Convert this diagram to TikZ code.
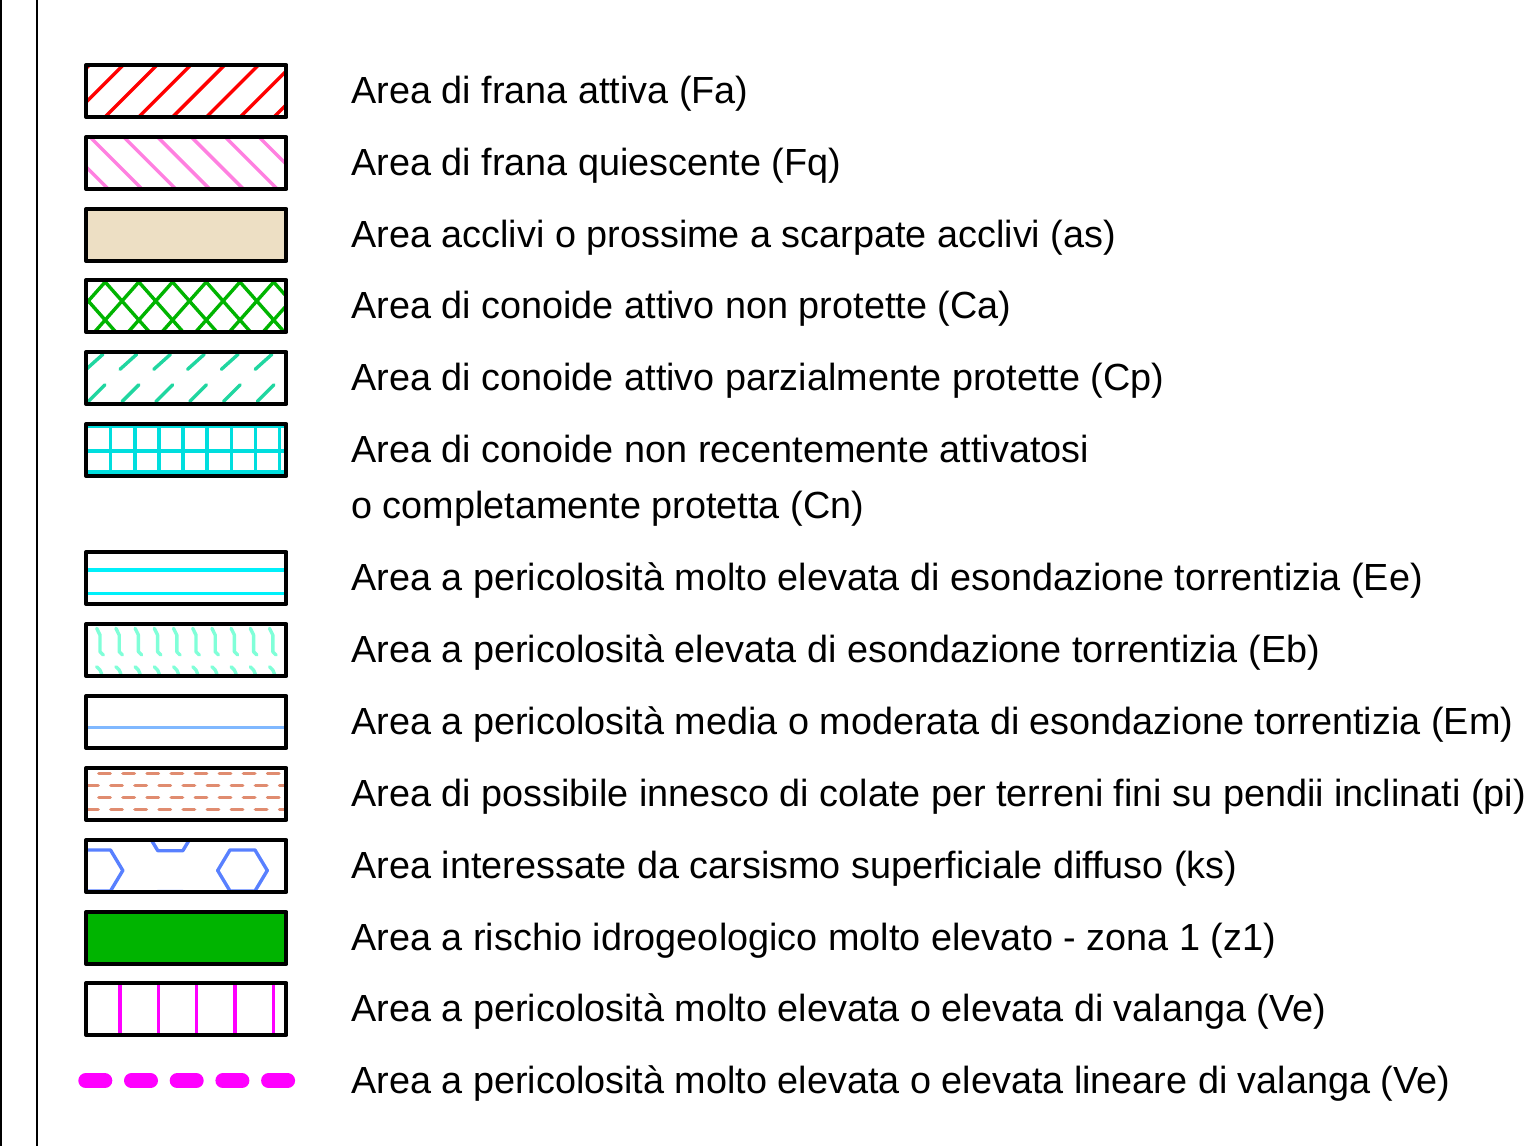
\documentclass[tikz,border=0pt]{standalone}
\usepackage{fontspec}
\setmainfont{Liberation Sans}
\usetikzlibrary{positioning,calc}
\definecolor{fraRed}{RGB}{255,0,0}
\definecolor{fraPink}{RGB}{255,128,224}
\definecolor{accBeige}{RGB}{237,223,196}
\definecolor{conGreen}{RGB}{0,180,0}
\definecolor{conTeal}{RGB}{32,214,160}
\definecolor{conCyan}{RGB}{0,222,222}
\definecolor{esoCyan}{RGB}{0,240,250}
\definecolor{esoAqua}{RGB}{128,255,216}
\definecolor{esoBlue}{RGB}{128,184,255}
\definecolor{colSalmon}{RGB}{224,140,112}
\definecolor{karBlue}{RGB}{88,128,255}
\definecolor{valMag}{RGB}{255,0,255}
\tikzset{box/.style={rectangle,inner sep=0pt,outer sep=0pt,minimum width=100pt,minimum height=26pt},
         frame/.style={draw=black,line width=2.1pt,line join=round},
         hatch/.style={line width=1.7pt},
         legend/.style={anchor=base west,inner sep=0pt,font=\fontsize{18.9}{22}\selectfont},
         valline/.style={valMag,line width=7.5pt,line cap=round,dash pattern=on 9.5pt off 13.35pt}
}
\newcommand\kshex[2]{\draw[hatch,karBlue,line join=round] (#1-12.5,#2-20.5) -- (#1+12.5,#2-20.5) -- (#1+24.8,#2) -- (#1+12.5,#2+20.5) -- (#1-12.5,#2+20.5) -- (#1-24.8,#2) -- cycle;}

\begin{document}
\begin{tikzpicture}[x=0.5pt,y=-0.5pt]
\useasboundingbox (0,0) rectangle (1529,1146);
% left rules
\draw[line width=0.8pt] (1,0) -- (1,1146);
\draw[line width=1.2pt] (37.2,0) -- (37.2,1146);

% swatches and texts
\foreach \nm/\cy/\txt in {Fa/91/Area di frana attiva (Fa),
                         Fq/163/Area di frana quiescente (Fq),
                         as/235/Area acclivi o prossime a scarpate acclivi (as),
                         Ca/306/Area di conoide attivo non protette (Ca),
                         Cp/378/Area di conoide attivo parzialmente protette (Cp),
                         Cn/450/Area di conoide non recentemente attivatosi,
                         Ee/578/Area a pericolosità molto elevata di esondazione torrentizia (Ee),
                         Eb/650/Area a pericolosità elevata di esondazione torrentizia (Eb),
                         Em/722/Area a pericolosità media o moderata di esondazione torrentizia (Em),
                         pi/794/Area di possibile innesco di colate per terreni fini su pendii inclinati (pi),
                         ks/866/Area interessate da carsismo superficiale diffuso (ks),
                         z1/938/Area a rischio idrogeologico molto elevato - zona 1 (z1),
                         Ve/1009/Area a pericolosità molto elevata o elevata di valanga (Ve)}{
  \node[box] (\nm) at (186.3,\cy) {};
  \node[legend] (t\nm) at (351,\cy+12.5) {\txt};
}
\node[legend] (tCn2) at (351,518) {o completamente protetta (Cn)};
\node[legend] (tVl) at (351,1093) {Area a pericolosità molto elevata o elevata lineare di valanga (Ve)};

% fills
\fill[accBeige] (as.south west) rectangle (as.north east);
\fill[conGreen] (z1.south west) rectangle (z1.north east);

% Fa
\begin{scope}
  \clip (Fa.south west) rectangle (Fa.north east);
  \foreach \k in {-3,...,6} \draw[hatch,fraRed] (91+33.8*\k,131) -- ++(80,-80);
\end{scope}
% Fq
\begin{scope}
  \clip (Fq.south west) rectangle (Fq.north east);
  \foreach \k in {-3,...,6} \draw[hatch,fraPink] (76+33.8*\k,123) -- ++(80,80);
\end{scope}
% Ca
\begin{scope}
  \clip (Ca.south west) rectangle (Ca.north east);
  \foreach \k in {-3,...,7}{
    \draw[hatch,conGreen] (88.3+33.7*\k-50.5,301+57) -- ++(101,-114);
    \draw[hatch,conGreen] (88.3+33.7*\k-50.5,301-57) -- ++(101,114);
  }
\end{scope}
% Cp
\begin{scope}
  \clip (Cp.south west) rectangle (Cp.north east);
  \foreach \k in {-1,...,6}{
    \draw[hatch,conTeal,line cap=round] (88.3+33.8*\k,401.5) -- ++(16.7,-16.7);
    \draw[hatch,conTeal,line cap=round] (120+33.8*\k,369.3) -- ++(16.7,-15);
  }
\end{scope}
% Cn
\begin{scope}
  \clip (Cn.south west) rectangle (Cn.north east);
  \foreach \k in {0,...,7} \draw[hatch,conCyan] (110.7+24.1*\k,400) -- ++(0,100);
  \foreach \yy in {426.5,451,472} \draw[hatch,conCyan] (80,\yy) -- (300,\yy);
\end{scope}
% Ee
\foreach \yy in {570,593.3} \draw[hatch,esoCyan] (Ee.west |- 0,\yy) -- (Ee.east |- 0,\yy);
% Eb
\begin{scope}
  \clip (Eb.south west) rectangle (Eb.north east);
  \foreach \k in {0,...,9}{
    \draw[hatch,esoAqua,line cap=round,line join=round] (96.7+19.2*\k,628.3) -- ++(3.3,6.7) -- ++(0,16.7) -- ++(3.3,3.3);
    \draw[hatch,esoAqua,line cap=round,line join=round] (96.7+19.2*\k,666.7) -- ++(3.3,3.3) -- ++(1.7,4);
  }
\end{scope}
% Em
\draw[hatch,esoBlue] (Em.west |- 0,727.3) -- (Em.east |- 0,727.3);
% pi
\begin{scope}
  \clip (pi.south west) rectangle (pi.north east);
  \foreach \yy/\xo in {773.3/97.3,785.3/109.3,797.3/97.3,809.3/109.3}
    \foreach \k in {-1,...,8}
      \draw[hatch,colSalmon,line cap=round] (\xo+24.1*\k+1.5,\yy) -- ++(11.5,0);
\end{scope}
% ks
\begin{scope}
  \clip (ks.south west) rectangle (ks.north east);
  \kshex{98}{870.5}
  \kshex{242.5}{870.5}
  \kshex{170.3}{830.2}
  \kshex{170.3}{912}
\end{scope}
% Ve
\foreach \k in {0,...,4} \draw[hatch,valMag] (120+38.33*\k,0 |- Ve.north) -- (120+38.33*\k,0 |- Ve.south);

% frames
\foreach \nm in {Fa,Fq,as,Ca,Cp,Cn,Ee,Eb,Em,pi,ks,z1,Ve}
  \draw[frame] (\nm.south west) rectangle (\nm.north east);

% linear avalanche line
\coordinate (vl-a) at (85.8,1080.7);
\coordinate (vl-b) at (287.6,1080.7);
\draw[valline] (vl-a) -- (vl-b);
\end{tikzpicture}
\end{document}
